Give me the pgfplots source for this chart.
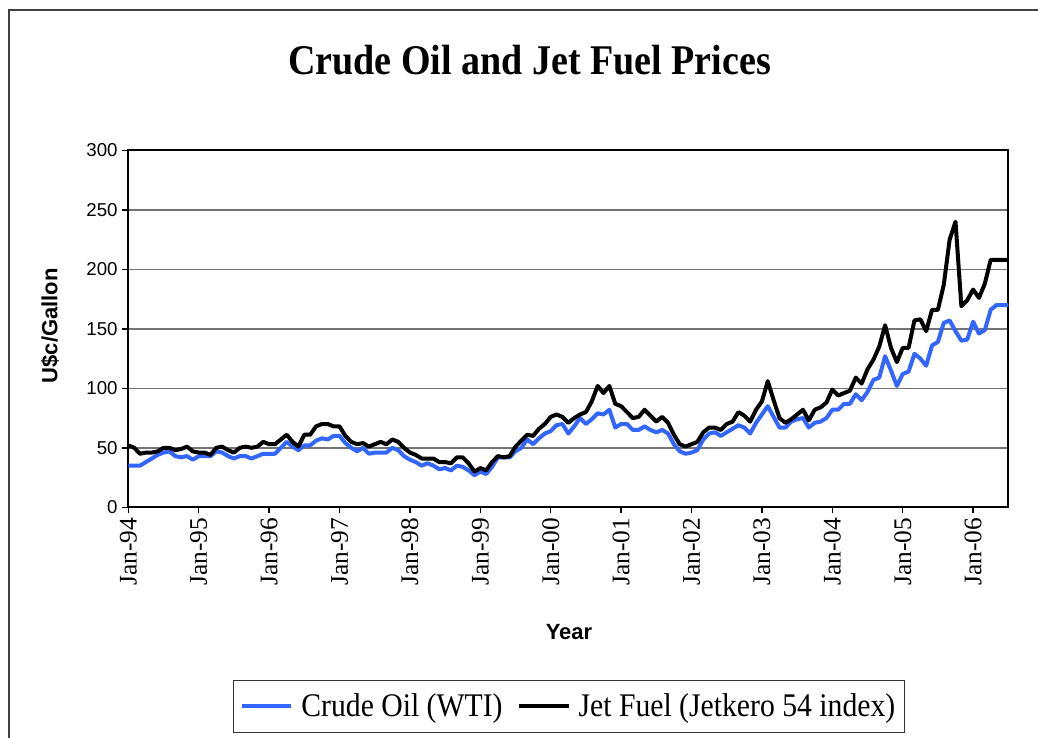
\documentclass[border=0pt]{standalone}
\usepackage{pgfplots}
\pgfplotsset{compat=1.18}
\usepackage{pgfplotstable}
\usepackage{fontspec}
\setmainfont{Liberation Serif}
\setsansfont{Liberation Sans}
\newfontfamily\narrowserif[FakeStretch=0.9]{Liberation Serif}
\definecolor{crude}{RGB}{51,102,255}

\pgfplotstableread{
m crude jet
0 35 52
1 35 50
2 35 45
3 38 46
4 41 46
5 44 47
6 46 50
7 47 50
8 43 48
9 42 49
10 43 51
11 40 47
12 43 46
13 43 46
14 43 44
15 47 50
16 46 51
17 43 48
18 41 46
19 43 50
20 43 51
21 41 50
22 43 51
23 45 55
24 45 53
25 45 53
26 50 57
27 55 61
28 51 55
29 48 51
30 52 61
31 52 61
32 56 68
33 58 70
34 57 70
35 60 68
36 60 68
37 54 60
38 50 55
39 47 53
40 50 54
41 45 51
42 46 53
43 46 55
44 46 53
45 50 57
46 48 55
47 43 50
48 40 46
49 38 44
50 35 41
51 37 41
52 35 41
53 32 38
54 33 38
55 31 37
56 35 42
57 34 42
58 31 37
59 27 30
60 30 33
61 28 31
62 34 38
63 42 43
64 42 42
65 42 43
66 47 51
67 50 56
68 57 61
69 53 60
70 58 66
71 62 70
72 64 76
73 69 78
74 70 76
75 62 71
76 68 75
77 75 78
78 70 80
79 74 89
80 79 102
81 78 96
82 82 102
83 67 87
84 70 85
85 70 80
86 65 75
87 65 76
88 68 82
89 65 77
90 63 72
91 65 76
92 62 71
93 53 61
94 47 53
95 45 51
96 46 53
97 48 55
98 57 63
99 62 67
100 63 67
101 60 65
102 63 70
103 66 72
104 69 80
105 67 77
106 62 72
107 71 82
108 78 89
109 85 106
110 76 90
111 67 75
112 67 71
113 72 74
114 74 78
115 75 82
116 67 73
117 71 82
118 72 84
119 75 88
120 82 99
121 82 94
122 87 96
123 87 98
124 95 109
125 90 104
126 97 116
127 107 124
128 109 135
129 127 153
130 115 134
131 102 122
132 112 134
133 114 134
134 129 157
135 125 158
136 119 148
137 136 166
138 139 166
139 155 187
140 157 225
141 148 240
142 140 169
143 141 174
144 156 183
145 146 176
146 149 188
147 166 208
148 170 208
149 170 208
150 170 208
}\prices

\begin{document}
\begin{tikzpicture}[x=0.75pt,y=-0.75pt]
\path[use as bounding box] (0,0) rectangle (1038,738);
\clip (0,0) rectangle (1038,738);
\draw[line width=1.2pt, black!75] (9,10) rectangle (1060,760);
\node[font=\narrowserif\bfseries\fontsize{31.7}{34}\selectfont, anchor=base] at (529.5,75) {Crude Oil and Jet Fuel Prices};
\begin{axis}[
  at={(96.225pt,-380.475pt)}, anchor=south west,
  scale only axis, width=660pt, height=267.75pt,
  xmin=0, xmax=150, ymin=0, ymax=300,
  xtick={0,12,...,144},
  xticklabels={Jan-94,Jan-95,Jan-96,Jan-97,Jan-98,Jan-99,Jan-00,Jan-01,Jan-02,Jan-03,Jan-04,Jan-05,Jan-06},
  ytick={0,50,...,300},
  tick align=outside, major tick length=4.5pt,
  tick style={black, line width=1.1pt},
  xtick pos=bottom, ytick pos=left,
  axis line style={black, line width=1.5pt},
  ymajorgrids, major grid style={black!55, line width=1.1pt},
  /pgf/number format/assume math mode=true,
  yticklabel style={font=\sffamily\fontsize{14}{14}\selectfont},
  xticklabel style={font=\fontsize{19}{19}\selectfont, rotate=90, anchor=east},
  ylabel={U\$c/Gallon},
  ylabel style={font=\sffamily\bfseries\fontsize{16.5}{16.5}\selectfont, at={(axis description cs:-0.089,0.5087)}, anchor=center},
  xlabel={Year},
  xlabel style={font=\sffamily\bfseries\fontsize{16.5}{16.5}\selectfont, at={(axis description cs:0.5008,-0.349)}, anchor=center},
  legend columns=2,
  legend style={at={(axis description cs:0.5008,-0.484)}, anchor=north, draw=black!80, line width=0.9pt,
    font=\narrowserif\fontsize{24.75}{26}\selectfont, inner xsep=5pt, inner ysep=8pt,
    /tikz/every odd column/.append style={column sep=4pt},
    /tikz/every even column/.append style={column sep=9pt}},
  legend image code/.code={\draw[#1] (0pt,0pt) -- (37pt,0pt);},
]
\addplot[crude, line width=3pt, line join=round] table[x=m, y=crude] {\prices};
\addlegendentry{Crude Oil (WTI)}
\addplot[black, line width=3pt, line join=round] table[x=m, y=jet] {\prices};
\addlegendentry{Jet Fuel (Jetkero 54 index)}
\end{axis}
\end{tikzpicture}
\end{document}
